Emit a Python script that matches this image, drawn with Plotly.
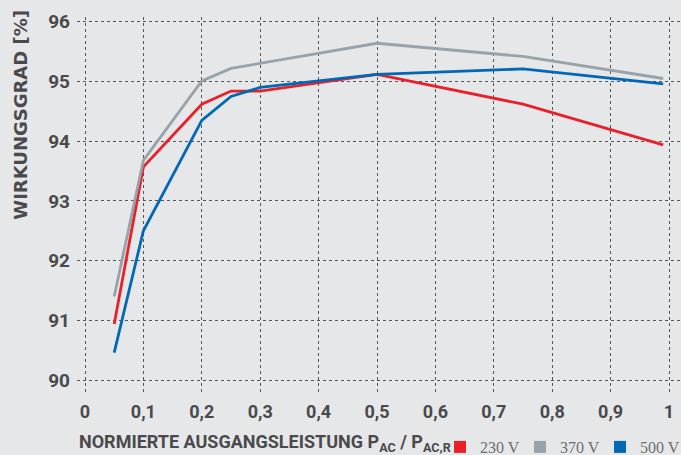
import plotly.graph_objects as go

x_red = [0.05, 0.1, 0.2, 0.25, 0.3, 0.5, 0.75, 0.99]
y_red = [90.94, 93.57, 94.62, 94.84, 94.84, 95.12, 94.62, 93.94]
x_gray = [0.05, 0.1, 0.2, 0.25, 0.5, 0.75, 0.99]
y_gray = [91.4, 93.68, 95.01, 95.22, 95.64, 95.42, 95.05]
x_blue = [0.05, 0.1, 0.2, 0.25, 0.3, 0.5, 0.75, 0.99]
y_blue = [90.46, 92.5, 94.35, 94.75, 94.9, 95.12, 95.21, 94.96]
names = ["230 V", "370 V", "500 V"]
colors = ["#e8202a", "#98a3a9", "#0068b4"]
x_ticks = [0, 0.1, 0.2, 0.3, 0.4, 0.5, 0.6, 0.7, 0.8, 0.9, 1]
x_labels = ["0", "0,1", "0,2", "0,3", "0,4", "0,5", "0,6", "0,7", "0,8", "0,9", "1"]
y_ticks = [90, 91, 92, 93, 94, 95, 96]

fig = go.Figure()
for xs, ys, c in [(x_red, y_red, colors[0]), (x_gray, y_gray, colors[1]), (x_blue, y_blue, colors[2])]:
    fig.add_trace(go.Scatter(x=xs, y=ys, mode="lines", line=dict(color=c, width=2.8), showlegend=False))
for n, c in zip(names, colors):
    fig.add_trace(go.Scatter(x=[None], y=[None], mode="markers", name=n,
                             marker=dict(symbol="square", size=12, color=c)))

txt = "#4a4a4c"
fig.update_layout(
    width=681, height=455,
    margin=dict(l=77, r=0, t=17, b=63, autoexpand=False),
    paper_bgcolor="#e6e7e9", plot_bgcolor="#e6e7e9",
    font=dict(family="Roboto", color=txt),
    legend=dict(orientation="h", xref="container", yref="container",
                x=440 / 681, xanchor="left", y=8 / 455, yanchor="middle",
                entrywidth=35, entrywidthmode="pixels",
                font=dict(family="Liberation Serif", size=16, color="#6e6e70"),
                itemwidth=30, tracegroupgap=0, bgcolor="rgba(0,0,0,0)", borderwidth=0),
    xaxis=dict(range=[-0.0137, 1.0205], tickmode="array", tickvals=x_ticks, ticktext=x_labels,
               showgrid=True, gridcolor="#555555", griddash="dot", gridwidth=1.3,
               zeroline=False, showline=False, ticks="outside", ticklen=3, tickcolor="rgba(0,0,0,0)",
               ticklabeloverflow="allow",
               tickfont=dict(family="Roboto", size=18, color=txt, weight="bold")),
    yaxis=dict(range=[89.8, 96.08], tickvals=y_ticks,
               showgrid=True, gridcolor="#555555", griddash="dot", gridwidth=1.3,
               zeroline=False, showline=False, ticks="", ticklabelstandoff=6,
               tickfont=dict(family="Roboto", size=19, color=txt, weight="bold")),
)
fig.add_annotation(xref="paper", yref="paper", x=-0.094, y=0.74, xanchor="center", yanchor="middle",
                   text="<b>WIRKUNGSGRAD [%]</b>", textangle=-90, showarrow=False,
                   font=dict(family="DejaVu Sans", size=18, color=txt))
fig.add_annotation(xref="paper", yref="paper", x=0.0, y=-0.135, xanchor="left", yanchor="middle",
                   text="<b>NORMIERTE AUSGANGSLEISTUNG P<sub>AC</sub> / P<sub>AC,R</sub></b>",
                   showarrow=False, font=dict(family="Roboto", size=18, color=txt))
fig.write_html("out.html", config={"displayModeBar": False},
               post_script="document.body.style.margin='0';document.body.style.overflow='hidden';document.body.style.background='#e6e7e9';")
